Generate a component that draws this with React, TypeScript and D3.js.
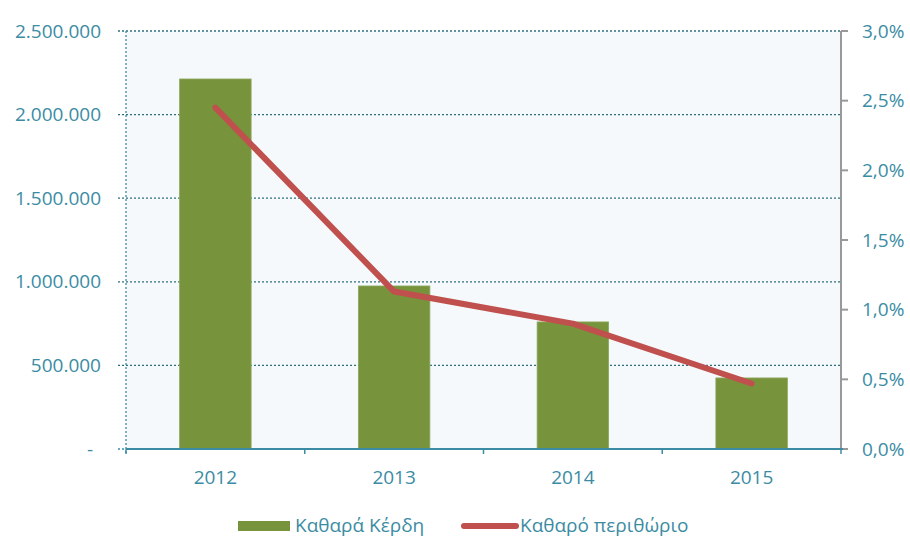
import React from "react";
import * as d3 from "d3";

const categories = ["2012", "2013", "2014", "2015"];
const profits = [2213000, 975000, 760000, 425000];
const margins = [2.45, 1.13, 0.9, 0.47];
const leftTicks = [0, 500000, 1000000, 1500000, 2000000, 2500000];
const leftTickLabels = ["-", "500.000", "1.000.000", "1.500.000", "2.000.000", "2.500.000"];
const rightTicks = [0, 0.5, 1, 1.5, 2, 2.5, 3];
const rightTickLabels = ["0,0%", "0,5%", "1,0%", "1,5%", "2,0%", "2,5%", "3,0%"];
const legendLabels = ["Καθαρά Κέρδη", "Καθαρό περιθώριο"];

const W = 910, H = 538;
const L = 126, R = 841, T = 31, B = 449;
const font = "'Open Sans', 'DejaVu Sans', sans-serif";
const textColor = "#3b8ca3";
const green = "#77933c";
const red = "#c0504d";

export default function App() {
  const x = d3.scaleBand<string>().domain(categories).range([L, R]).paddingInner(0.6).paddingOuter(0.3);
  const xb = d3.scaleBand<string>().domain(categories).range([L, R]);
  const yL = d3.scaleLinear().domain([0, 2500000]).range([B, T]);
  const yR = d3.scaleLinear().domain([0, 3]).range([B, T]);
  const line = d3.line<number>()
    .x((_, i) => (xb(categories[i]) as number) + xb.bandwidth() / 2)
    .y((d) => yR(d));

  return (
    <svg width={W} height={H} style={{ position: "absolute", left: 0, top: 0 }} fontFamily={font}>
      <rect x={L} y={T} width={R - L} height={B - T} fill="#f5f9fc" />
      {leftTicks.slice(1).map((t) => (
        <line key={t} x1={L - 8} x2={R} y1={yL(t)} y2={yL(t)} stroke="#2f6f80" strokeWidth={1.3} strokeDasharray="2,2" />
      ))}
      <line x1={L - 8} x2={L} y1={B} y2={B} stroke="#3b8ca3" strokeWidth={1.3} strokeDasharray="2,2" />
      <line x1={L} x2={L} y1={T} y2={B + 5} stroke="#3b8ca3" strokeWidth={1.3} strokeDasharray="2,2" />
      {categories.map((c, i) => (
        <rect key={c} x={x(c)} y={yL(profits[i])} width={x.bandwidth()} height={B - yL(profits[i])} fill={green} stroke="#8fa860" strokeWidth={0.8} />
      ))}
      <line x1={R} x2={R} y1={T} y2={B} stroke="#999" strokeWidth={2} />
      {rightTicks.map((t) => (
        <line key={t} x1={R} x2={R + 7} y1={yR(t)} y2={yR(t)} stroke="#999" strokeWidth={2} />
      ))}
      <line x1={L} x2={R + 2} y1={B} y2={B} stroke="#3b8ca3" strokeWidth={2} />
      {categories.map((c) => (
        <line key={c} x1={(xb(c) as number) + xb.bandwidth()} x2={(xb(c) as number) + xb.bandwidth()} y1={B} y2={B + 5} stroke="#3b8ca3" strokeWidth={1.5} />
      ))}
      <line x1={L} x2={L} y1={B} y2={B + 5} stroke="#3b8ca3" strokeWidth={1.5} />
      <path d={line(margins) as string} fill="none" stroke={red} strokeWidth={6} strokeLinecap="round" strokeLinejoin="round" />
      {leftTicks.map((t, i) => (
        <text key={t} x={t === 0 ? 93 : 101} y={yL(t)} dy="0.35em" textAnchor="end" fontSize={19} fill={textColor}>{leftTickLabels[i]}</text>
      ))}
      {rightTicks.map((t, i) => (
        <text key={t} x={862} y={yR(t)} dy="0.35em" textAnchor="start" fontSize={19} fill={textColor}>{rightTickLabels[i]}</text>
      ))}
      {categories.map((c) => (
        <text key={c} x={(xb(c) as number) + xb.bandwidth() / 2} y={477} dy="0.35em" textAnchor="middle" fontSize={19} fill={textColor}>{c}</text>
      ))}
      <rect x={238} y={521} width={52} height={10} fill={green} />
      <text x={295} y={525} dy="0.35em" fontSize={19} fill={textColor}>{legendLabels[0]}</text>
      <line x1={464} x2={516} y1={526} y2={526} stroke={red} strokeWidth={6} strokeLinecap="round" />
      <text x={520} y={525} dy="0.35em" fontSize={19} fill={textColor}>{legendLabels[1]}</text>
    </svg>
  );
}
